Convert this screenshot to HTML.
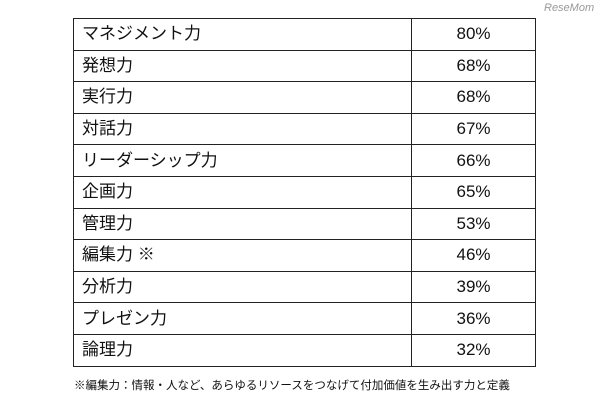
<!DOCTYPE html>
<html><head><meta charset="utf-8"><style>
body{margin:0;width:610px;height:400px;background:#fff;position:relative;overflow:hidden;font-family:"Liberation Sans","Noto Sans CJK JP",sans-serif;color:#111}
table{position:absolute;left:73px;top:18px;width:463px;border-collapse:collapse;table-layout:fixed}
td{border:1.5px solid #222;height:31.6px;padding:0;font-size:17px;line-height:20px;vertical-align:middle;box-sizing:border-box}
td.l{width:338px;padding-left:8px}
td.v{text-align:center}
.note{position:absolute;left:74px;top:377px;font-size:11.5px}
.wm{position:absolute;left:544px;top:2px;font-size:11px;color:#999;font-style:italic}
</style></head><body>
<div class="wm">ReseMom</div>
<table><tbody id="tb"></tbody></table>
<div class="note">※編集力：情報・人など、あらゆるリソースをつなげて付加価値を生み出す力と定義</div>
<script>
const labels=["マネジメント力","発想力","実行力","対話力","リーダーシップ力","企画力","管理力","編集力 ※","分析力","プレゼン力","論理力"];
const values=[80,68,68,67,66,65,53,46,39,36,32];
const tb=document.getElementById('tb');
labels.forEach((l,i)=>{
 const tr=document.createElement('tr');
 
 
 const a=document.createElement('td');a.className='l';a.textContent=l;
 
 
 const b=document.createElement('td');b.className='v';b.textContent=values[i]+'%';
 
 
 tr.appendChild(a);tr.appendChild(b);tb.appendChild(tr);
});
</script>
</body></html>
